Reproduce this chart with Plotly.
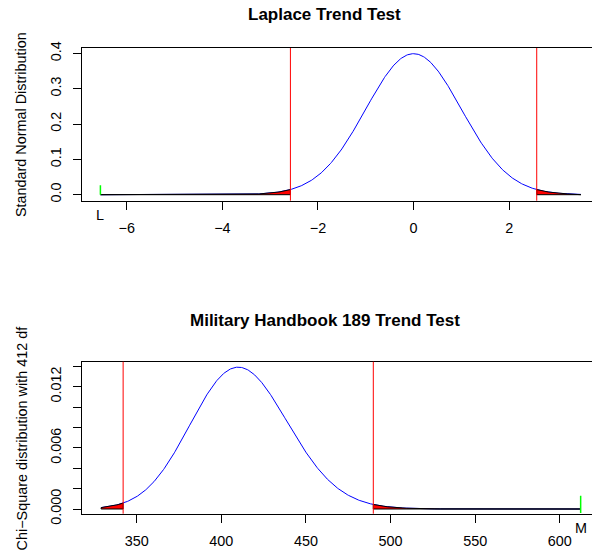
import math
import numpy as np
import plotly.graph_objects as go

# ---- values ----
L_stat = -6.55          # Laplace test statistic
z_upper_end = 3.5       # right end of normal curve
z_crit = 2.576          # two-sided 1% critical value
norm_xticks = [-6, -4, -2, 0, 2]
norm_xtick_text = ["\u22126", "\u22124", "\u22122", "0", "2"]
norm_yticks = [0.0, 0.1, 0.2, 0.3, 0.4]
norm_ytick_text = ["0.0", "0.1", "0.2", "0.3", "0.4"]

M_stat = 612.3          # Military handbook statistic
chi_df = 412
chi_start = 329.0       # left end of chi-square curve
chi_lo = 342.0          # lower critical value
chi_hi = 489.8          # upper critical value
chi_xticks = [350, 400, 450, 500, 550, 600]
chi_xtick_text = ["350", "400", "450", "500", "550", "600"]
chi_yticks = [0.000, 0.002, 0.004, 0.006, 0.008, 0.010, 0.012, 0.014]
chi_ytick_text = ["0.000", "", "", "0.006", "", "", "0.012", ""]

title_top = "Laplace Trend Test"
title_bot = "Military Handbook 189 Trend Test"
ylab_top = "Standard Normal Distribution"
ylab_bot = "Chi\u2212Square distribution with 412 df"


def dnorm(x):
    return np.exp(-0.5 * x ** 2) / math.sqrt(2 * math.pi)


def dchisq(x, k):
    return np.exp((k / 2 - 1) * np.log(x) - x / 2 - (k / 2) * math.log(2) - math.lgamma(k / 2))


W, H = 592, 552
ML = 82
PW = W - ML


def py(p):  # pixel row -> paper y
    return 1 - p / H


def pxp(p):  # pixel column -> paper x
    return (p - ML) / PW


FONT = "Liberation Sans, Arial, Helvetica, sans-serif"

fig = go.Figure()

# ---- top panel ----
xn = np.linspace(L_stat, z_upper_end, 600)
fig.add_trace(go.Scatter(x=xn, y=dnorm(xn), mode="lines", line=dict(color="blue", width=1),
                         xaxis="x", yaxis="y", showlegend=False, hoverinfo="skip"))
for a, b in [(L_stat, -z_crit), (z_crit, z_upper_end)]:
    xs = np.linspace(a, b, 200)
    px_ = np.concatenate([xs, [b, a, a]])
    py_ = np.concatenate([dnorm(xs), [0, 0, dnorm(a)]])
    fig.add_trace(go.Scatter(x=px_, y=py_, mode="lines", fill="toself", fillcolor="red",
                             line=dict(color="black", width=1), xaxis="x", yaxis="y",
                             showlegend=False, hoverinfo="skip"))
fig.add_trace(go.Scatter(x=[L_stat, L_stat], y=[0, 0.027], mode="lines",
                         line=dict(color="#00FF00", width=1.5), xaxis="x", yaxis="y",
                         showlegend=False, hoverinfo="skip"))

# ---- bottom panel ----
xc = np.linspace(chi_start, M_stat, 800)
fig.add_trace(go.Scatter(x=xc, y=dchisq(xc, chi_df), mode="lines", line=dict(color="blue", width=1),
                         xaxis="x2", yaxis="y2", showlegend=False, hoverinfo="skip"))
for a, b in [(chi_start, chi_lo), (chi_hi, M_stat)]:
    xs = np.linspace(a, b, 300)
    px_ = np.concatenate([xs, [b, a, a]])
    py_ = np.concatenate([dchisq(xs, chi_df), [0, 0, dchisq(np.array([a]), chi_df)[0]]])
    fig.add_trace(go.Scatter(x=px_, y=py_, mode="lines", fill="toself", fillcolor="red",
                             line=dict(color="black", width=1), xaxis="x2", yaxis="y2",
                             showlegend=False, hoverinfo="skip"))
fig.add_trace(go.Scatter(x=[M_stat, M_stat], y=[-0.0004, 0.0013], mode="lines",
                         line=dict(color="#00FF00", width=1.5), xaxis="x2", yaxis="y2",
                         showlegend=False, hoverinfo="skip"))

shapes = []
for v in [-z_crit, z_crit]:
    shapes.append(dict(type="line", xref="x", yref="y domain", x0=v, x1=v, y0=0, y1=1,
                       line=dict(color="red", width=1)))
for v in [chi_lo, chi_hi]:
    shapes.append(dict(type="line", xref="x2", yref="y2 domain", x0=v, x1=v, y0=0, y1=1,
                       line=dict(color="red", width=1)))

tickfont = dict(family=FONT, size=14.4, color="black")
axis_common = dict(showgrid=False, zeroline=False, showline=True, linecolor="black", linewidth=1,
                   ticks="outside", ticklen=8, tickcolor="black", tickwidth=1, tickfont=tickfont,
                   automargin=False)

top_dom = [py(200.7), py(48)]
bot_dom = [py(513.7), py(361.7)]

fig.update_layout(
    width=W, height=H, margin=dict(l=ML, r=0, t=0, b=0, autoexpand=False),
    paper_bgcolor="white", plot_bgcolor="white",
    xaxis=dict(domain=[0, 1], anchor="y", range=[-6.935, 3.732], tickvals=norm_xticks,
               ticktext=norm_xtick_text, mirror=True, ticklabelstandoff=6, **axis_common),
    yaxis=dict(domain=top_dom, anchor="x", range=[-0.017, 0.415], tickvals=norm_yticks,
               ticktext=norm_ytick_text, tickangle=-90, mirror=False, ticklabelstandoff=6,
               **axis_common),
    xaxis2=dict(domain=[0, 1], anchor="y2", range=[317.7, 619.0], tickvals=chi_xticks,
                ticktext=chi_xtick_text, mirror=True, ticklabelstandoff=6, **axis_common),
    yaxis2=dict(domain=bot_dom, anchor="x2", range=[-0.00046, 0.01446], tickvals=chi_yticks,
                ticktext=chi_ytick_text, tickangle=-90, mirror=False, ticklabelstandoff=6,
                **axis_common),
    shapes=shapes,
    annotations=[
        dict(text="<b>%s</b>" % title_top, xref="paper", yref="paper", x=pxp(324.5), y=py(14),
             showarrow=False, font=dict(family=FONT, size=17, color="black"),
             xanchor="center", yanchor="middle"),
        dict(text="<b>%s</b>" % title_bot, xref="paper", yref="paper", x=pxp(325), y=py(320.5),
             showarrow=False, font=dict(family=FONT, size=17, color="black"),
             xanchor="center", yanchor="middle"),
        dict(text=ylab_top, xref="paper", yref="paper", x=pxp(21.7), y=(top_dom[0] + top_dom[1]) / 2,
             textangle=-90, showarrow=False, font=dict(family=FONT, size=14.4, color="black"),
             xanchor="center", yanchor="middle"),
        dict(text=ylab_bot, xref="paper", yref="paper", x=pxp(21.7), y=(bot_dom[0] + bot_dom[1]) / 2,
             textangle=-90, showarrow=False, font=dict(family=FONT, size=14.4, color="black"),
             xanchor="center", yanchor="middle"),
        dict(text="L", xref="x", yref="paper", x=L_stat, y=py(215), showarrow=False,
             font=dict(family=FONT, size=14.4, color="black"), xanchor="center", yanchor="middle"),
        dict(text="M", xref="x2", yref="paper", x=M_stat, y=py(528), showarrow=False,
             font=dict(family=FONT, size=14.4, color="black"), xanchor="center", yanchor="middle"),
    ],
)

fig.write_html("out.html")
